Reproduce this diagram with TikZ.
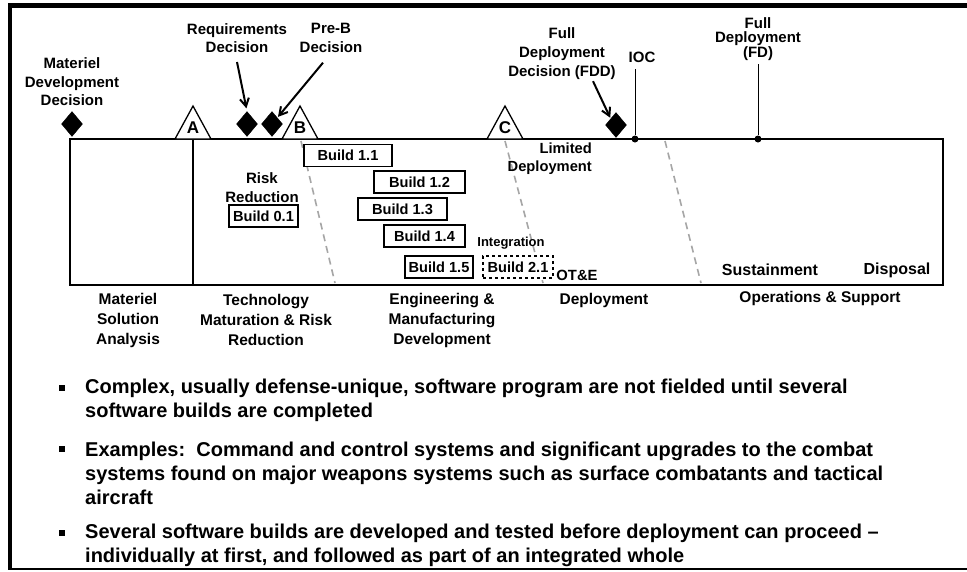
\documentclass[tikz,border=0pt]{standalone}
\usepackage{fontspec}
\setmainfont{Liberation Sans}
\usetikzlibrary{shapes.geometric,arrows.meta}
\begin{document}
\begin{tikzpicture}[x=1pt,y=-1pt,
  lbl/.style={font=\bfseries\fontsize{15}{18.5}\selectfont, align=center, inner sep=0pt},
  phase/.style={font=\bfseries\fontsize{15.5}{20}\selectfont, align=center, inner sep=0pt},
  diam/.style={diamond, fill=black, draw=black, inner sep=0pt, minimum width=21pt, minimum height=25pt},
  arr/.style={line width=2pt, -{Straight Barb[length=8pt,width=9pt,line width=2pt]}},
  dot/.style={circle, fill=black, inner sep=0pt, minimum size=7pt},
  stem/.style={line width=0.9pt},
  tri/.style={draw=black, fill=white, line width=1.3pt},
  trilbl/.style={font=\bfseries\fontsize{17}{17}\selectfont, inner sep=0pt},
  gline/.style={draw=gray!70, line width=1.6pt, dash pattern=on 7pt off 5pt},
  buildbox/.style={draw=black, line width=1.2pt, fill=white, font=\bfseries\fontsize{14.6}{16}\selectfont, minimum height=22pt, inner sep=0pt},
  bul/.style={font=\bfseries\fontsize{20}{24}\selectfont, align=left, inner sep=0pt, anchor=west},
  bsq/.style={fill=black, inner sep=0pt, minimum size=6pt}
]
\useasboundingbox (0,0) rectangle (967,571);
\fill[white] (0,0) rectangle (967,571);
% frame
\draw[line width=5pt] (8,5.5) -- (967,5.5);
\draw[line width=4pt] (10,3) -- (10,569);
\draw[line width=2pt] (8,569) -- (967,569);

% main timeline box
\draw[line width=2.6pt] (70,139) rectangle (943,285);
\draw[line width=1.3pt] (193,139) -- (193,285);

% grey dashed phase lines
\coordinate (g1a) at (301,141); \coordinate (g1b) at (335,283);
\coordinate (g2a) at (505,141); \coordinate (g2b) at (543,283);
\coordinate (g3a) at (665,141); \coordinate (g3b) at (701,283);
\draw[gline] (g1a) -- (g1b);
\draw[gline] (g2a) -- (g2b);
\draw[gline] (g3a) -- (g3b);

% milestone triangles
\draw[tri] (175,139) -- (193,106) -- (211,139) -- cycle;
\node[trilbl] (ma) at (193,128) {A};
\draw[tri] (282,139) -- (300,106) -- (318,139) -- cycle;
\node[trilbl] (mb) at (300,128) {B};
\draw[tri] (487,139) -- (505,106) -- (523,139) -- cycle;
\node[trilbl] (mc) at (505,128) {C};

% decision diamonds
\node[diam] (mdd) at (72,124) {};
\node[diam] (req) at (247,124) {};
\node[diam] (preb) at (272,124) {};
\node[diam] (fdd) at (616,125) {};

% top labels
\node[lbl] (mddl) at (72,82) {Materiel\\Development\\Decision};
\node[lbl] (reql) at (237,38) {Requirements\\Decision};
\node[lbl] (prebl) at (331,38) {Pre-B\\Decision};
\node[lbl, font=\bfseries\fontsize{15}{19}\selectfont] (fddl) at (562,54) {Full\\Deployment\\Decision (FDD)};
\node[lbl] (iocl) at (642,57) {IOC};
\node[lbl, font=\bfseries\fontsize{15}{14.5}\selectfont] (fdl) at (758,39) {Full\\Deployment\\(FD)};

% arrows
\draw[arr, shorten >=3pt] ([yshift=-9pt]reql.south) -- (req.north);
\draw[arr, shorten >=1pt] ([xshift=-8pt,yshift=-10pt]prebl.south) -- (preb.north east);
\draw[arr, shorten >=1pt] ([xshift=31pt,yshift=-1pt]fddl.south) -- (fdd.north west);

% IOC and FD
\node[dot] (ioc) at (635,139) {};
\node[dot] (fd) at (758,139) {};
\coordinate (ioctop) at (635,69);
\coordinate (fdtop) at (758,64);
\draw[stem] (ioctop) -- (ioc);
\draw[stem] (fdtop) -- (fd);

% builds
\node[buildbox, minimum width=88pt] (b11) at (348,155.5) {Build 1.1};
\node[buildbox, minimum width=91pt] (b12) at (419.5,182) {Build 1.2};
\node[buildbox, minimum width=89pt] (b13) at (402.5,209) {Build 1.3};
\node[buildbox, minimum width=81pt] (b14) at (424.5,236) {Build 1.4};
\node[buildbox, minimum width=68pt] (b15) at (439,267) {Build 1.5};
\node[buildbox, minimum width=70pt, dashed] (b21) at (518,267) {Build 2.1};
\node[buildbox, minimum width=69pt] (b01) at (263.5,216) {Build 0.1};

% labels inside box
\node[lbl, font=\bfseries\fontsize{15}{19}\selectfont] (rr) at (262,188) {Risk\\Reduction};
\node[inner sep=0pt, font=\fontsize{13}{13}\selectfont\bfseries] (integ) at (511,243) {Integration};
\node[inner sep=0pt, font=\bfseries\fontsize{14.8}{15}\selectfont] (ote) at (577,275) {OT\&E};
\node[lbl, align=right, anchor=east, font=\bfseries\fontsize{14.7}{18}\selectfont] (ltd) at (592,159) {Limited\\Deployment};
\node[lbl, font=\bfseries\fontsize{16}{16}\selectfont] (sust) at (770,270) {Sustainment};
\node[lbl, font=\bfseries\fontsize{16}{16}\selectfont] (disp) at (897,270) {Disposal};

% phase labels
\node[phase] (p1) at (128,320) {Materiel\\Solution\\Analysis};
\node[phase] (p2) at (266,320) {Technology\\Maturation \& Risk\\Reduction};
\node[phase] (p3) at (442,320) {Engineering \&\\Manufacturing\\Development};
\node[phase] (p4) at (604,300) {Deployment};
\node[phase] (p5) at (820,298) {Operations \& Support};

% bullets
\node[bsq] (s1) at (62,388) {};
\node[bsq] (s2) at (62,449) {};
\node[bsq] (s3) at (62,533) {};
\node[bul] (t1) at (85,400) {Complex, usually defense-unique, software program are not fielded until several\\software builds are completed};
\node[bul] (t2) at (85,473) {Examples:\ \ Command and control systems and significant upgrades to the combat\\systems found on major weapons systems such as surface combatants and tactical\\aircraft};
\node[bul] (t3) at (85,545) {Several software builds are developed and tested before deployment can proceed --\\individually at first, and followed as part of an integrated whole};
\end{tikzpicture}
\end{document}
